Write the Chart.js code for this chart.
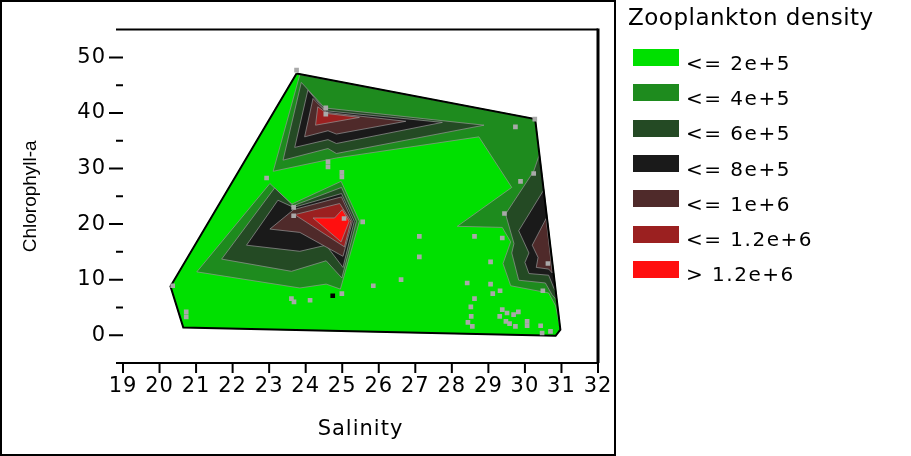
<!DOCTYPE html>
<html>
<head>
<meta charset="utf-8">
<script src="https://cdn.jsdelivr.net/npm/chart.js@4.4.1/dist/chart.umd.min.js"></script>
<style>
  body { margin: 0; background: #fff; }
  .wrap { position: relative; width: 911px; height: 456px; }
  .frame { position: absolute; left: 0; top: 0; width: 612px; height: 452px; border: 2px solid #000; }
  canvas { position: absolute; left: 0; top: 0; }
  .legend { position: absolute; left: 0; top: 0; font-family: 'DejaVu Sans'; color: #000; }
  .legend_title { position: absolute; left: 628px; top: 4px; font-size: 23px; line-height: 27px; letter-spacing: 0.5px; white-space: nowrap; }
  .legend_box { position: absolute; left: 633px; width: 46px; height: 17px; }
  .legend_text { position: absolute; left: 686px; font-size: 20px; line-height: 23px; letter-spacing: 1.5px; white-space: nowrap; }
</style>
</head>
<body>
<div class="wrap">
  <div class="frame"></div>
  <canvas id="contour" width="911" height="456"></canvas>
  <div class="legend"></div>
</div>
<script>
// 범례 등급
const levelLabels = ['<= 2e+5', '<= 4e+5', '<= 6e+5', '<= 8e+5', '<= 1e+6', '<= 1.2e+6', '> 1.2e+6'];
const levelColors = ['#00E000', '#1E8B1E', '#244A24', '#1A1A1A', '#4F2A2A', '#9B2020', '#FF0F0F'];

// 축 눈금
const salinityTicks = [19, 20, 21, 22, 23, 24, 25, 26, 27, 28, 29, 30, 31, 32];
const chlTicks = [-5, 0, 5, 10, 15, 20, 25, 30, 35, 40, 45, 50, 55];

// 등고선 영역 (salinity, chlorophyll-a)
const hull = [[23.75, 47.1], [30.28, 38.9], [30.97, 1.0], [30.84, -0.1], [20.65, 1.4], [20.30, 8.8]];

const band4Top = [[23.84, 46.9], [23.11, 29.5], [24.84, 31.9], [28.74, 35.7], [29.64, 26.6], [28.15, 19.6], [29.38, 19.4], [29.61, 16.8], [29.40, 12.9], [29.61, 8.9], [30.65, 7.6], [30.84, 5.3], [30.96, 1.3], [30.28, 38.9]];
const band4Left = [[21.02, 11.4], [23.02, 27.3], [23.62, 23.6], [24.97, 27.7], [25.47, 20.5], [24.95, 8.3], [24.56, 9.2], [23.84, 8.5]];

const band6Top = [[23.88, 45.5], [24.52, 40.9], [28.88, 37.8], [24.84, 32.7], [24.61, 33.6], [23.38, 31.5]];
const band6Left = [[21.70, 13.7], [23.15, 26.5], [23.66, 23.3], [24.98, 26.6], [25.39, 20.5], [24.99, 10.3], [24.56, 13.4], [23.61, 11.5]];
const band6Right = [[30.40, 32.6], [30.24, 29.5], [29.47, 21.8], [29.70, 16.5], [29.64, 14.8], [29.83, 9.9], [30.56, 9.4], [30.74, 7.3], [30.87, 6.3]];

const band8Top = [[24.06, 44.1], [24.54, 40.4], [27.74, 38.3], [24.84, 34.5], [24.61, 35.2], [23.70, 33.8]];
const band8Left = [[22.38, 16.2], [23.24, 24.3], [23.67, 23.0], [24.98, 25.5], [25.33, 20.5], [25.02, 12.2], [24.56, 16.2], [23.84, 15.1]];
const band8Right = [[30.52, 26.2], [29.83, 18.8], [30.11, 14.8], [30.00, 13.1], [30.11, 11.1], [30.65, 10.8], [30.79, 8.5], [30.84, 8.0]];

const band10Top = [[24.20, 42.6], [24.57, 40.1], [26.74, 38.5], [24.84, 36.2], [24.61, 36.8], [23.97, 35.7]];
const band10Left = [[23.02, 19.1], [23.67, 22.6], [24.98, 24.9], [25.28, 20.5], [25.02, 14.2], [23.84, 18.5]];
const band10Right = [[30.58, 21.0], [30.20, 16.2], [30.36, 14.0], [30.31, 12.2], [30.65, 11.9], [30.75, 11.2]];

const band12Top = [[24.33, 41.1], [24.58, 39.9], [25.47, 39.2], [24.27, 37.8]];
const band12Left = [[23.70, 21.7], [24.93, 23.7], [25.24, 20.5], [25.06, 15.9]];

const bandMaxLeft = [[24.20, 21.1], [24.79, 21.1], [25.00, 22.6], [25.19, 20.5], [24.97, 16.8]];

// 정점 (sampling stations)
const stationSalinity = [23.75, 24.55, 24.55, 29.74, 30.27, 24.61, 24.61, 24.99, 24.99, 22.93, 30.24, 29.88, 23.67, 23.67, 25.05, 25.56, 29.44, 27.11, 28.62, 29.38, 27.11, 29.06, 30.63, 26.61, 28.42, 29.06, 25.85, 20.36, 29.32, 30.49, 24.99, 29.12, 23.61, 23.68, 24.12, 28.62, 28.52, 29.38, 29.51, 29.69, 29.82, 29.31, 28.53, 28.44, 28.56, 29.48, 29.58, 29.74, 30.06, 30.06, 30.43, 30.47, 30.70, 20.73, 20.73];
const stationChl = [47.7, 40.9, 39.8, 37.5, 38.9, 31.2, 30.3, 29.3, 28.5, 28.3, 29.1, 27.7, 23.0, 21.5, 21.0, 20.4, 21.9, 17.8, 17.8, 17.5, 14.1, 13.2, 12.9, 10.0, 9.4, 9.2, 8.9, 8.9, 8.0, 8.0, 7.5, 7.5, 6.6, 6.0, 6.3, 6.6, 5.1, 4.6, 4.0, 3.7, 4.2, 3.4, 3.4, 2.3, 1.6, 2.5, 2.1, 1.6, 2.5, 1.7, 1.7, 0.4, 0.7, 4.2, 3.3];
const markedSalinity = [24.74];
const markedChl = [7.1];

// [영역, 등급 번호]
const bands = [
  [hull, 0],
  [band4Top, 1], [band4Left, 1],
  [band6Top, 2], [band6Left, 2], [band6Right, 2],
  [band8Top, 3], [band8Left, 3], [band8Right, 3],
  [band10Top, 4], [band10Left, 4], [band10Right, 4],
  [band12Top, 5], [band12Left, 5],
  [bandMaxLeft, 6]
];

function toPoints(poly) {
  return poly.concat([poly[0]]).map(p => ({x: p[0], y: p[1]}));
}

const datasets = bands.map(([poly, level], i) => ({
  data: toPoints(poly),
  showLine: true,
  fill: 'shape',
  backgroundColor: levelColors[level],
  borderColor: i === 0 ? levelColors[0] : 'rgba(150,150,150,0.7)',
  borderWidth: 1,
  pointRadius: 0,
  order: 100 - i
}));
// 외곽선
datasets.push({
  data: toPoints(hull),
  showLine: true,
  fill: false,
  borderColor: '#000',
  borderWidth: 2,
  pointRadius: 0,
  order: 3
});
datasets.push({
  data: stationSalinity.map((s, i) => ({x: s, y: stationChl[i]})),
  pointStyle: 'rect',
  pointRadius: 3.3,
  backgroundColor: '#A9A9A9',
  borderWidth: 0,
  order: 2
});
datasets.push({
  data: markedSalinity.map((s, i) => ({x: s, y: markedChl[i]})),
  pointStyle: 'rect',
  pointRadius: 3.3,
  backgroundColor: '#000',
  borderWidth: 0,
  order: 1
});

// 눈금선, 테두리
const axisDecor = {
  id: 'axisDecor',
  beforeDraw(chart) { chart.ctx.letterSpacing = '1px'; },
  afterDatasetsDraw(chart) { chart.ctx.letterSpacing = '0px'; },
  afterDraw(chart) {
    const {ctx, chartArea: a, scales: {x, y}} = chart;
    ctx.save();
    ctx.strokeStyle = '#000';
    ctx.lineWidth = 2;
    ctx.beginPath();
    x.ticks.forEach(t => {
      const px = x.getPixelForValue(t.value);
      ctx.moveTo(px, a.bottom);
      ctx.lineTo(px, a.bottom + 10);
    });
    y.ticks.forEach(t => {
      const py = y.getPixelForValue(t.value);
      const len = t.value % 10 === 0 ? 14 : 7;
      ctx.moveTo(a.left - len, py);
      ctx.lineTo(a.left, py);
    });
    ctx.moveTo(a.left, a.top);
    ctx.lineTo(a.right, a.top);
    ctx.stroke();
    ctx.lineWidth = 3;
    ctx.beginPath();
    ctx.moveTo(a.right, a.top - 1);
    ctx.lineTo(a.right, a.bottom);
    ctx.stroke();
    ctx.restore();
  }
};

const chart = new Chart(document.getElementById('contour'), {
  type: 'scatter',
  data: {datasets: datasets},
  plugins: [axisDecor],
  options: {
    responsive: false,
    animation: false,
    devicePixelRatio: 1,
    events: [],
    layout: {padding: {top: 16, right: 313, bottom: 0, left: 0}},
    plugins: {legend: {display: false}, tooltip: {enabled: false}},
    scales: {
      x: {
        type: 'linear',
        min: 19,
        max: 32,
        afterBuildTicks: scale => { scale.ticks = salinityTicks.map(v => ({value: v})); },
        afterFit: scale => { scale.height = 93; },
        grid: {display: false, drawTicks: false},
        border: {display: true, color: '#000', width: 2},
        ticks: {
          color: '#000',
          padding: 11,
          maxRotation: 0,
          autoSkip: false,
          font: {family: 'DejaVu Sans', size: 21}
        },
        title: {
          display: true,
          text: 'Salinity',
          color: '#000',
          font: {family: 'DejaVu Sans', size: 21},
          padding: {top: 0, bottom: 14}
        }
      },
      y: {
        type: 'linear',
        min: -5,
        max: 55,
        afterBuildTicks: scale => { scale.ticks = chlTicks.map(v => ({value: v})); },
        afterFit: scale => { scale.width = 123; },
        grid: {display: false, drawTicks: false, z: 1},
        border: {display: true, color: '#000', width: 2},
        ticks: {
          color: '#000',
          padding: 17,
          autoSkip: false,
          font: {family: 'DejaVu Sans', size: 21},
          callback: v => (v % 10 === 0 ? v : '')
        },
        title: {
          display: true,
          text: 'Chlorophyll-a',
          color: '#000',
          font: {family: 'Liberation Sans', size: 19},
          padding: {top: 19, bottom: 0}
        }
      }
    }
  }
});

// 범례 (HTML)
const legendBox = document.querySelector('.legend');
const legendTitle = document.createElement('div');
legendTitle.className = 'legend_title';
legendTitle.textContent = 'Zooplankton density';
legendBox.appendChild(legendTitle);
levelLabels.forEach((label, i) => {
  const box = document.createElement('div');
  box.className = 'legend_box';
  box.style.top = (49 + i * 35.3) + 'px';
  box.style.background = levelColors[i];
  legendBox.appendChild(box);
  const text = document.createElement('div');
  text.className = 'legend_text';
  text.style.top = (51.6 + i * 35.3) + 'px';
  text.textContent = label;
  legendBox.appendChild(text);
});
</script>
</body>
</html>
